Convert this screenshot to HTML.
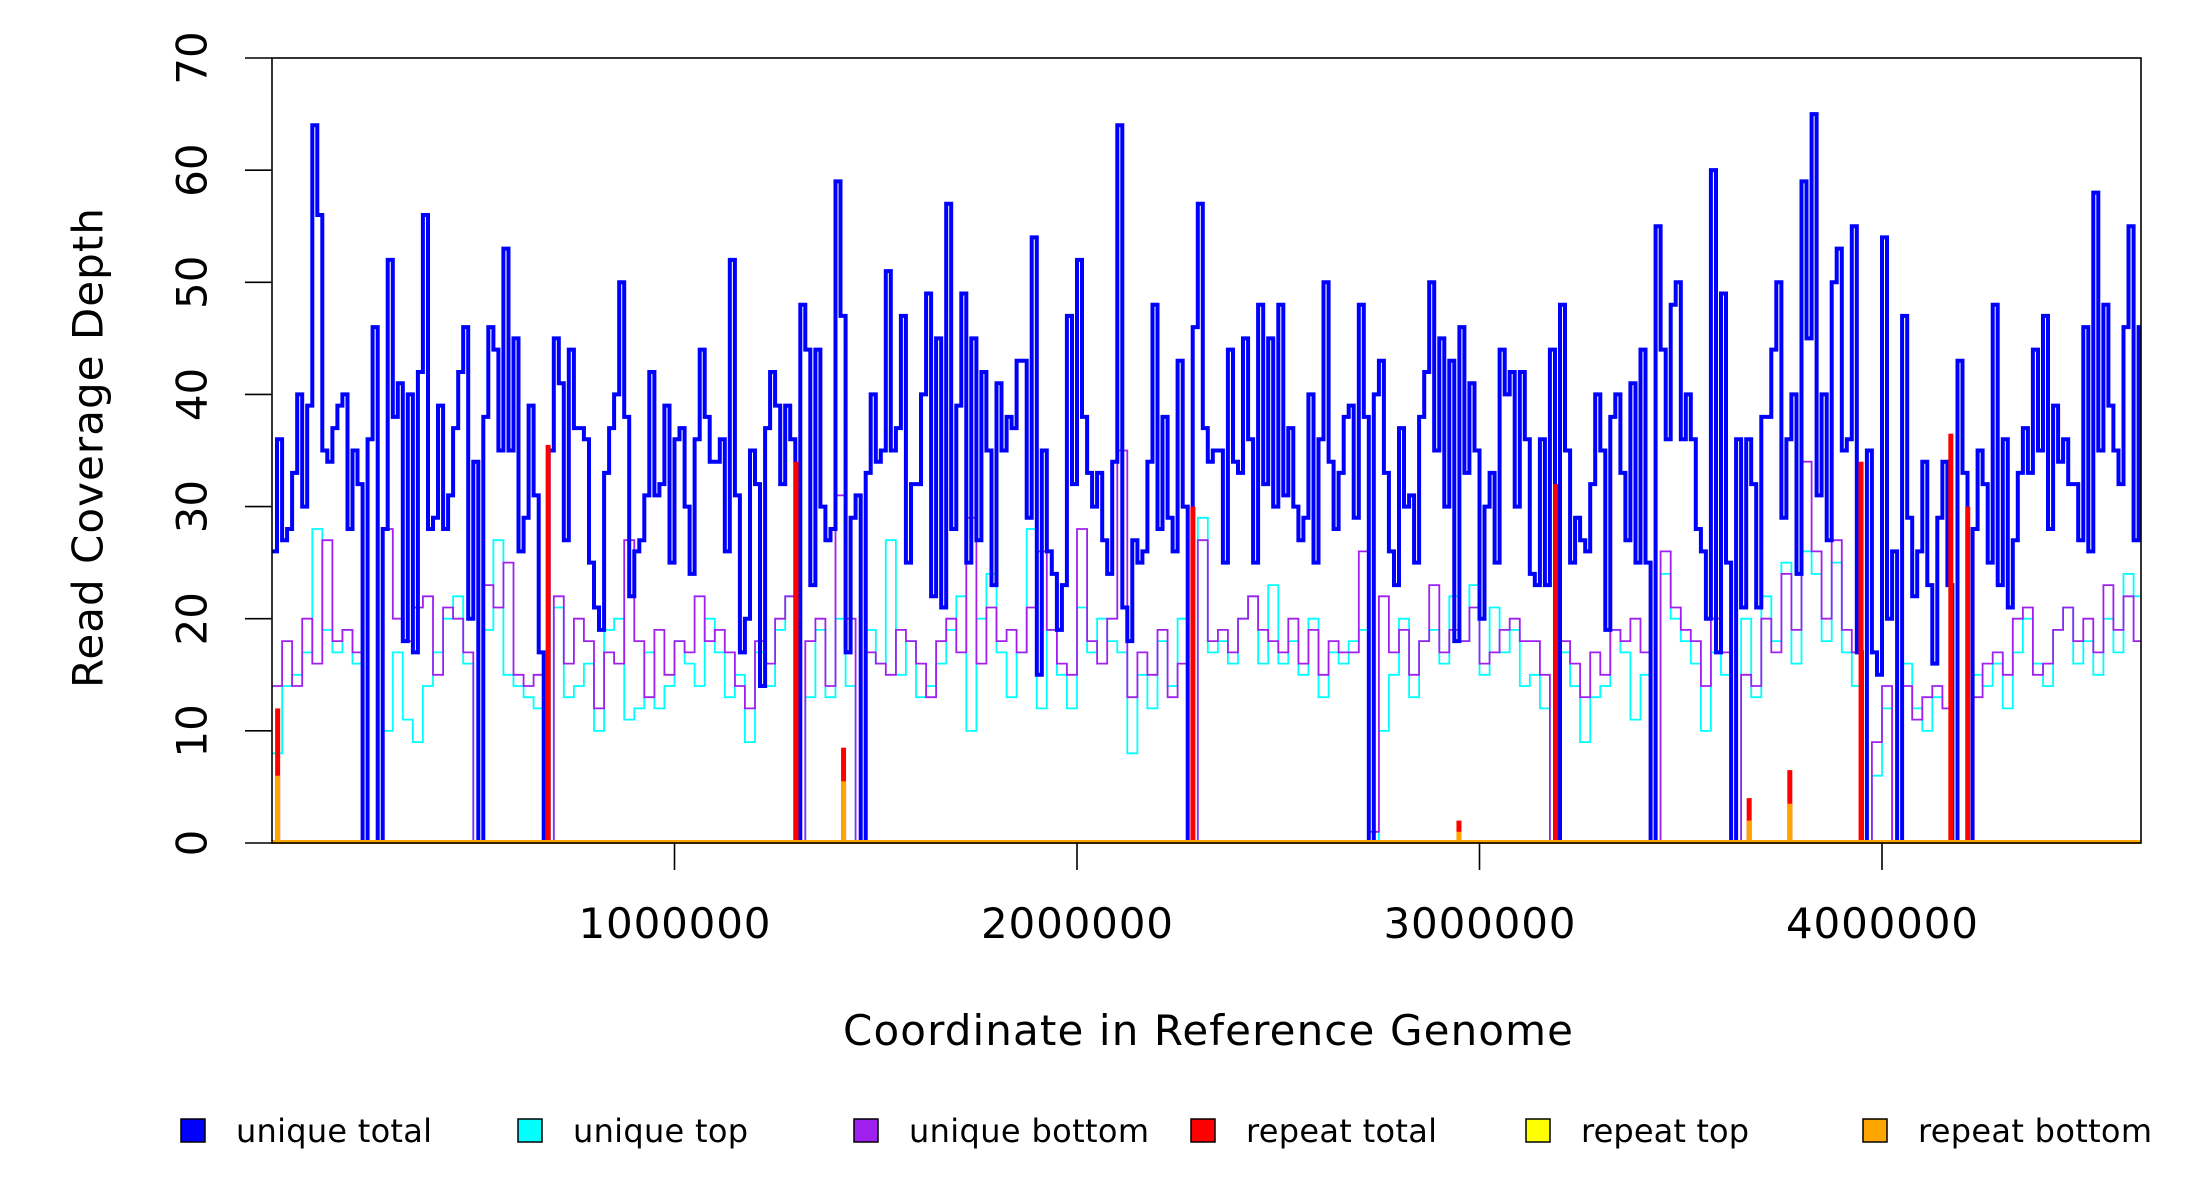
<!DOCTYPE html>
<html><head><meta charset="utf-8"><style>
html,body{margin:0;padding:0;background:#fff;}
svg{display:block;font-family:"DejaVu Sans","Liberation Sans",sans-serif;}
</style></head><body>
<svg id="chart" width="2200" height="1200" viewBox="0 0 2200 1200" xmlns="http://www.w3.org/2000/svg">
<defs><clipPath id="pc"><rect x="272" y="58" width="1869" height="786"/></clipPath></defs>
<g id="plot" clip-path="url(#pc)"></g>
<rect x="272" y="58" width="1869" height="785" fill="none" stroke="#000" stroke-width="1.6"/>
<g id="axes"></g>
<text x="88" y="448" transform="rotate(-90 88 448)" text-anchor="middle" dominant-baseline="central" font-size="42" textLength="480">Read Coverage Depth</text>
<text x="1208" y="1045" text-anchor="middle" font-size="42" textLength="730">Coordinate in Reference Genome</text>
<g id="legend"></g>
</svg>
<script>
const blueBin = 12500;
const binW = 25000;
const uniqueTotal = [26,36,27,28,33,40,30,39,64,56,35,34,37,39,40,28,35,32,0,36,46,0,28,52,38,41,18,40,17,42,56,28,29,39,28,31,37,42,46,20,34,0,38,46,44,35,53,35,45,26,29,39,31,17,0,35,45,41,27,44,37,37,36,25,21,19,33,37,40,50,38,22,26,27,31,42,31,32,39,25,36,37,30,24,36,44,38,34,34,36,26,52,31,17,20,35,32,14,37,42,39,32,39,36,0,48,44,23,44,30,27,28,59,47,17,29,31,0,33,40,34,35,51,35,37,47,25,32,32,40,49,22,45,21,57,28,39,49,25,45,27,42,35,23,41,35,38,37,43,43,29,54,15,35,26,24,19,23,47,32,52,38,33,30,33,27,24,34,64,21,18,27,25,26,34,48,28,38,29,26,43,30,0,46,57,37,34,35,35,25,44,34,33,45,36,25,48,32,45,30,48,31,37,30,27,29,40,25,36,50,34,28,33,38,39,29,48,38,0,40,43,33,26,23,37,30,31,25,38,42,50,35,45,30,43,18,46,33,41,35,20,30,33,25,44,40,42,30,42,36,24,23,36,23,44,0,48,35,25,29,27,26,32,40,35,19,38,40,33,27,41,25,44,25,0,55,44,36,48,50,36,40,36,28,26,20,60,17,49,25,0,36,21,36,32,21,38,38,44,50,29,36,40,24,59,45,65,31,40,27,50,53,35,36,55,17,0,35,17,15,54,20,26,0,47,29,22,26,34,23,16,29,34,23,0,43,33,0,28,35,32,25,48,23,36,21,27,33,37,33,44,35,47,28,39,34,36,32,32,27,46,26,58,35,48,39,35,32,46,55,27,46];
const uniqueBottom = [14,18,14,20,16,27,18,19,17,0, 0,28,20,18,21,22,15,21,20,17, 0,23,21,25,15,14,15,0,22,16, 20,18,12,17,16,27,18,13,19,15, 18,17,22,18,19,17,14,12,18,16, 20,22,0,18,20,14,31,20,0,17, 16,15,19,18,16,13,18,20,17,29, 16,21,18,19,17,21,26,19,16,15, 28,18,16,20,35,13,17,15,19,13, 16,0,27,18,19,17,20,22,19,18, 17,20,16,19,15,18,17,17,26,1, 22,17,19,15,18,23,17,19,18,21, 16,17,19,20,18,18,15,0,18,16, 13,17,15,19,18,20,17,0,26,21, 19,18,14,20,17,0,15,14,20,17, 24,19,34,26,20,27,19,17,0,9, 14,0,14,11,13,14,12,0,0,13, 16,17,15,20,21,15,16,19,21,18, 20,17,23,19,22,18];
const uniqueTop = [8,14,15,17,28,19,17,19,16,0, 0,10,17,11,9,14,17,20,22,16, 0,19,27,15,14,13,12,0,21,13, 14,16,10,19,20,11,12,17,12,14, 18,16,14,20,17,13,15,9,17,14, 19,22,0,13,19,13,20,14,0,19, 16,27,15,18,13,14,16,19,22,10, 20,24,17,13,17,28,12,19,15,12, 21,17,20,18,17,8,15,12,18,14, 20,0,29,17,18,16,20,22,16,23, 16,18,15,20,13,17,16,18,19,0, 10,15,20,13,18,19,16,22,18,23, 15,21,17,19,14,15,12,0,17,14, 9,13,14,19,17,11,15,0,24,20, 18,16,10,17,15,0,20,13,22,18, 25,16,26,24,18,25,17,14,0,6, 12,0,16,12,10,13,12,0,0,15, 14,16,12,17,20,16,14,19,21,16, 18,15,20,17,24,22];
const repeatPos = [14000,686000,1302000,1420000,2288000,2949000,3189000,3670000,3771000,3948000,4171000,4213000];
const repeatTotal = [12,35.5,34,8.5,30,2,32,4,6.5,34,36.5,30];
const repeatBottom = [6,0,0,5.5,0,1,0,2,3.5,0,0,0];
const xTicks = [1000000,2000000,3000000,4000000];
const yTicks = [0,10,20,30,40,50,60,70];
const legendLabels = ["unique total","unique top","unique bottom","repeat total","repeat top","repeat bottom"];
const legendColors = ["#0000ff","#00ffff","#a020f0","#ff0000","#ffff00","#ffa500"];

const NS="http://www.w3.org/2000/svg";
const X0=272, PXPER=402.5/1e6, YB=843, YPER=(843-58)/70;
const xs=v=>X0+v*PXPER, ys=v=>YB-v*YPER;
function mk(tag,attrs,parent){const e=document.createElementNS(NS,tag);for(const k in attrs)e.setAttribute(k,attrs[k]);parent.appendChild(e);return e;}
const plot=document.getElementById('plot');
function stepPath(arr,w){let d='M'+xs(0)+','+ys(arr[0]);for(let i=0;i<arr.length;i++){d+=' V'+ys(arr[i]).toFixed(1)+' H'+xs((i+1)*w).toFixed(1);}return d;}
const pc=mk('path',{d:stepPath(uniqueTop,binW),fill:'none',stroke:'#00ffff','stroke-width':1.8},plot);


const pp=mk('path',{d:stepPath(uniqueBottom,binW),fill:'none',stroke:'#a020f0','stroke-width':1.8},plot);


const pb=mk('path',{d:stepPath(uniqueTotal,blueBin),fill:'none',stroke:'#0000ff','stroke-width':4},plot);


for(let i=0;i<repeatPos.length;i++){
  const r=mk('rect',{x:xs(repeatPos[i])-2.5,y:ys(repeatTotal[i]),width:5,height:YB-ys(repeatTotal[i]),fill:'#ff0000'},plot);
  
  
  if(repeatBottom[i]>0){
    const o=mk('rect',{x:xs(repeatPos[i])-2.5,y:ys(repeatBottom[i]),width:5,height:YB-ys(repeatBottom[i]),fill:'#ffa500'},plot);
    
    
  }
}
const base=mk('line',{x1:272,x2:2141,y1:YB-1,y2:YB-1,stroke:'#ffa500','stroke-width':4},plot);



const axes=document.getElementById('axes');
yTicks.forEach(v=>{
  mk('line',{x1:245,x2:272,y1:ys(v),y2:ys(v),stroke:'#000','stroke-width':1.6},axes);
  const t=mk('text',{x:192,y:ys(v),transform:`rotate(-90 192 ${ys(v)})`,'text-anchor':'middle','dominant-baseline':'central','font-size':42},axes);
  t.textContent=v;
  
  
});
xTicks.forEach(v=>{
  mk('line',{x1:xs(v),x2:xs(v),y1:843,y2:870,stroke:'#000','stroke-width':1.6},axes);
  const t=mk('text',{x:xs(v),y:938,'text-anchor':'middle','font-size':42,textLength:192},axes);
  t.textContent=v;
  
  
});
const lg=document.getElementById('legend');
const lx=[181,518,854,1191,1526,1863];
const lw=[196,175,240,191,168,234];
legendLabels.forEach((lab,i)=>{
  const r=mk('rect',{x:lx[i],y:1119,width:24,height:23,fill:legendColors[i],stroke:'#000','stroke-width':1.5},lg);
  
  
  const t=mk('text',{x:lx[i]+55,y:1142,'font-size':32,textLength:lw[i]},lg);
  t.textContent=lab;
  
  
});
</script>
</body></html>
